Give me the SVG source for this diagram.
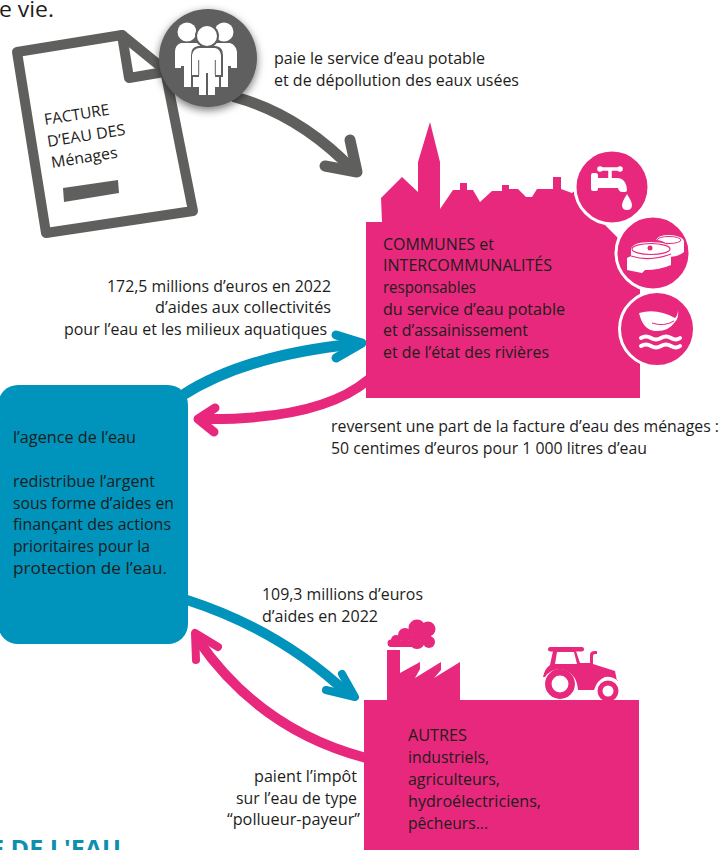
<svg xmlns="http://www.w3.org/2000/svg" width="720" height="850" viewBox="0 0 720 850">
<style>
text{font-family:"Open Sans","Noto Sans","Liberation Sans",sans-serif;font-size:15.5px;fill:#1d1d1b}
.gray{fill:none;stroke:#5f5f5e;stroke-width:10;stroke-linecap:round;stroke-linejoin:round}
.bl{fill:none;stroke:#0093bc;stroke-linecap:round;stroke-linejoin:round}
.pk{fill:none;stroke:#e7287c;stroke-linecap:round;stroke-linejoin:round}
.p{fill:#e7287c}
.w{fill:#fff}
.d{fill:#5f5f5e}
.ws{fill:none;stroke:#fff;stroke-linecap:round;stroke-linejoin:round}
</style>
<defs>
<filter id="sh" x="-30%" y="-30%" width="160%" height="170%"><feDropShadow dx="0" dy="3" stdDeviation="4" flood-color="#000" flood-opacity=".55"/></filter>
</defs>
<g id="intro"><text x="-1" y="17" style="font-size:22px" textLength="55" lengthAdjust="spacingAndGlyphs">e vie.</text></g>
<g id="facture">
<path class="gray" style="fill:#fff" d="M17 52 122 35 165 70 193 211 46 233Z"/>
<path class="gray" d="M122 35 129 78 170 71"/>
<path class="d" d="M63 188 118 180 119 193 64 202Z"/>
<text transform="translate(45 125) rotate(-9)" textLength="66" lengthAdjust="spacingAndGlyphs">FACTURE</text>
<text transform="translate(48 147) rotate(-9)" textLength="79" lengthAdjust="spacingAndGlyphs">D’EAU DES</text>
<text transform="translate(52 168) rotate(-9)" textLength="67" lengthAdjust="spacingAndGlyphs">Ménages</text>
</g>
<g id="connectors">
<path class="gray" style="stroke-width:11" d="M235 97Q300 115 353 170"/>
<path class="gray" style="stroke-width:11" d="M350 140 357 172 325 166"/>
<path class="bl" stroke-width="11" d="M183 395Q245 355 355 344"/>
<path class="bl" stroke-width="9" d="M336 335 362 343 336 358"/>
<path class="pk" stroke-width="10" d="M368 380Q320 420 205 419"/>
<path class="pk" stroke-width="9" d="M215 408 198 419 214 432"/>
<path class="bl" stroke-width="10" d="M187 600Q280 630 348 694"/>
<path class="bl" stroke-width="8" d="M342 674 355 697 326 690"/>
<path class="pk" stroke-width="10" d="M366 758Q260 730 198 640"/>
<path class="pk" stroke-width="8" d="M218 647 195 633 196 660"/>
</g>
<g id="usagers">
<circle class="d" cx="208" cy="58" r="49" filter="url(#sh)"/>
<g id="people">
<circle class="w" cx="187" cy="32" r="9.5"/><circle class="w" cx="224" cy="32" r="9.5"/>
<path class="w" d="M181 43H197Q201 44 202 48V87H193V66H191V87H184V66H181V68H175V52Q175 45 181 43Z"/>
<path class="w" d="M214 43H230Q236 45 237 52V68H231V66H228V87H221V66H219V87H212V48Q212 44 214 43Z"/>
<circle class="d" cx="207" cy="36" r="12"/>
<circle class="w" cx="207" cy="36" r="10"/>
<path class="d" d="M198 46H216Q223 47 223 55V77H191V55Q191 47 198 46Z"/>
<path class="w" d="M199 48H215Q220 49 221 55V75H215V95H208V73H206V95H199V75H192V55Q193 49 199 48Z"/>
<path class="d" d="M198.2 60H199.2V75H198.2ZM214.8 60H215.8V75H214.8Z"/>
</g>
<text x="274" y="64" textLength="211" lengthAdjust="spacingAndGlyphs">paie le service d’eau potable</text>
<text x="274" y="86" textLength="245" lengthAdjust="spacingAndGlyphs">et de dépollution des eaux usées</text>
</g>
<g id="communes">
<path class="p" d="M366 398V222H382L381 198 402 177 418 192V162L430 122 440 162V209L453 190H460V183H467V190H473L480 202 492 191H502V185H509V189H518L526 197H532L537 189H553V177H561V189L572 193 590 180 600 220 640 260V398Z"/>
<circle class="p" cx="612" cy="187" r="37" stroke="#fff" stroke-width="3"/>
<circle class="p" cx="653" cy="253" r="37" stroke="#fff" stroke-width="3"/>
<circle class="p" cx="657" cy="329" r="37.5" stroke="#fff" stroke-width="3"/>
<g id="tap">
<path class="w" d="M593 173H596Q598 173 598 176V178H617Q626 178 627 190 627 192 625 192H622Q619 192 618 188H598V189Q598 191 596 191H593Q591 191 591 189V175Q591 173 593 173Z"/>
<path class="ws" stroke-width="3.5" d="M610 178V170M601 169H620"/>
<circle class="w" cx="600" cy="169" r="2.8"/><circle class="w" cx="620" cy="169" r="2.8"/>
<path class="w" d="M627 194Q632 202 632 205 632 210 627 210 622 210 622 205 622 202 627 194Z"/>
</g>
<g id="cans">
<path class="w" d="M656 240Q658 235 669 235 684 236 684 242V252Q680 256 670 257V247Q664 240 656 240Z"/>
<ellipse cx="669" cy="240" rx="12" ry="3.5" fill="none" stroke="#e7287c" stroke-width="1"/>
<path class="w" d="M631 249Q633 242 650 242 670 242 671 249V265Q660 270 645 270L642 273 627 270V258L631 256Z"/>
<ellipse cx="651" cy="249" rx="19" ry="5.5" fill="none" stroke="#e7287c" stroke-width="1.2"/>
<path d="M631 256Q650 262 671 254" fill="none" stroke="#e7287c" stroke-width="1.2"/>
<circle cx="650" cy="248" r="2.5" class="p"/>
</g>
<g id="leaf">
<path class="w" d="M639 313Q657 308 675 318 678 315 678 310 679 318 675 322 668 332 655 331 643 330 639 313Z"/>
<path d="M652 323Q664 327 674 321" fill="none" stroke="#e7287c" stroke-width="1"/>
<path class="ws" stroke-width="4" d="M641 338Q646 335 651 338T661 338T671 338T680 338"/>
<path class="ws" stroke-width="4" d="M641 346Q646 343 651 346T661 346T671 346T680 346"/>
</g>
<text x="383" y="250" textLength="111" lengthAdjust="spacingAndGlyphs">COMMUNES et</text>
<text x="383" y="271" textLength="169" lengthAdjust="spacingAndGlyphs">INTERCOMMUNALITÉS</text>
<text x="383" y="293" textLength="93" lengthAdjust="spacingAndGlyphs">responsables</text>
<text x="383" y="315" textLength="182" lengthAdjust="spacingAndGlyphs">du service d’eau potable</text>
<text x="383" y="336" textLength="145" lengthAdjust="spacingAndGlyphs">et d’assainissement</text>
<text x="383" y="358" textLength="166" lengthAdjust="spacingAndGlyphs">et de l’état des rivières</text>
</g>
<g id="label-aides-collectivites">
<text x="107" y="292" textLength="224" lengthAdjust="spacingAndGlyphs">172,5 millions d’euros en 2022</text>
<text x="155" y="313" textLength="176" lengthAdjust="spacingAndGlyphs">d’aides aux collectivités</text>
<text x="64" y="335" textLength="263" lengthAdjust="spacingAndGlyphs">pour l’eau et les milieux aquatiques</text>
</g>
<g id="label-reversent">
<text x="331" y="432" textLength="388" lengthAdjust="spacingAndGlyphs">reversent une part de la facture d’eau des ménages :</text>
<text x="331" y="454" textLength="316" lengthAdjust="spacingAndGlyphs">50 centimes d’euros pour 1 000 litres d’eau</text>
</g>
<g id="agence">
<rect x="-2" y="385" width="190" height="259" rx="20" fill="#0093bc"/>
<text x="13" y="443" textLength="123" lengthAdjust="spacingAndGlyphs">l’agence de l’eau</text>
<text x="13" y="487" textLength="142" lengthAdjust="spacingAndGlyphs">redistribue l’argent</text>
<text x="13" y="509" textLength="161" lengthAdjust="spacingAndGlyphs">sous forme d’aides en</text>
<text x="13" y="530" textLength="158" lengthAdjust="spacingAndGlyphs">finançant des actions</text>
<text x="13" y="552" textLength="137" lengthAdjust="spacingAndGlyphs">prioritaires pour la</text>
<text x="13" y="574" textLength="154" lengthAdjust="spacingAndGlyphs">protection de l’eau.</text>
</g>
<g id="label-aides-autres">
<text x="262" y="600" textLength="161" lengthAdjust="spacingAndGlyphs">109,3 millions d’euros</text>
<text x="262" y="622" textLength="116" lengthAdjust="spacingAndGlyphs">d’aides en 2022</text>
</g>
<g id="autres">
<rect class="p" x="364" y="700" width="275" height="150"/>
<g id="factory">
<path class="p" d="M387 650H400V673L420 662V669L415 678 441 662V670L434 678 460 662V700H387Z"/>
<circle class="p" cx="417" cy="628" r="8.5"/><circle class="p" cx="428" cy="629" r="7.5"/>
<circle class="p" cx="429" cy="642" r="6"/><circle class="p" cx="417" cy="641" r="8"/>
<circle class="p" cx="405" cy="635" r="7"/><circle class="p" cx="396" cy="640" r="5"/>
<circle class="p" cx="391" cy="643" r="3.5"/><circle class="p" cx="423" cy="636" r="8"/>
<rect class="p" x="388" y="641" width="30" height="6" rx="3"/>
</g>
<g id="tractor">
<rect class="p" x="548" y="647" width="36" height="4.5" rx="2.2"/>
<path class="p" fill-rule="evenodd" d="M543 677Q545 668 550 665L553 651H576L580 663H590V655Q590 651 595 651H597V654H595Q593 654 593 656V664L615 671 617 681H618Q612 676 605 677 597 680 594 690H578Q577 675 565 670 552 667 545 677ZM557 652 555 664H577L574 652Z"/>
<circle cx="560" cy="684" r="11.7" fill="none" stroke="#e7287c" stroke-width="6.5"/>
<circle cx="608" cy="691" r="8" fill="none" stroke="#e7287c" stroke-width="5"/>
</g>
<text x="408" y="741" textLength="59" lengthAdjust="spacingAndGlyphs">AUTRES</text>
<text x="408" y="763" textLength="81" lengthAdjust="spacingAndGlyphs">industriels,</text>
<text x="408" y="785" textLength="92" lengthAdjust="spacingAndGlyphs">agriculteurs,</text>
<text x="408" y="807" textLength="133" lengthAdjust="spacingAndGlyphs">hydroélectriciens,</text>
<text x="408" y="829" textLength="80" lengthAdjust="spacingAndGlyphs">pêcheurs...</text>
</g>
<g id="label-impot">
<text x="254" y="782" textLength="103" lengthAdjust="spacingAndGlyphs">paient l’impôt</text>
<text x="236" y="804" textLength="121" lengthAdjust="spacingAndGlyphs">sur l’eau de type</text>
<text x="227" y="825" textLength="133" lengthAdjust="spacingAndGlyphs">“pollueur-payeur”</text>
</g>
<g id="footer"><text x="-10" y="857" style="font-size:24px;font-weight:700;fill:#0e8fb0" textLength="131" lengthAdjust="spacingAndGlyphs">E DE L'EAU</text></g>
</svg>
